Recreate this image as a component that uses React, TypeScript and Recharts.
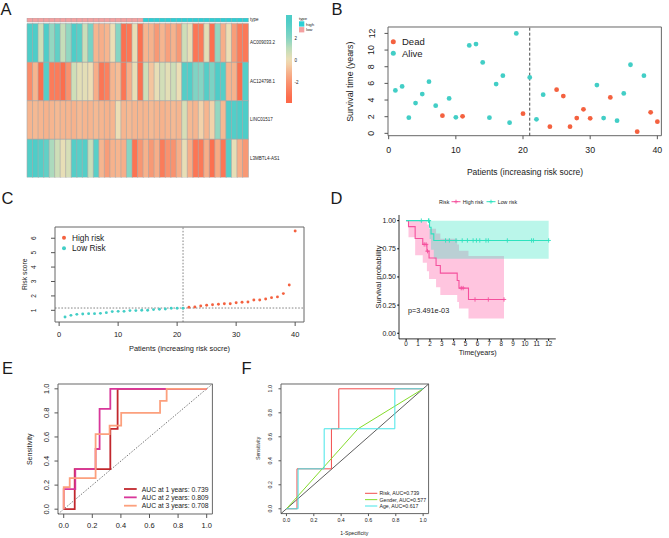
import * as React from 'react';
import {
  BarChart, Bar, Cell, XAxis, YAxis, ScatterChart, Scatter, ComposedChart,
  Line, Area, ReferenceLine, ReferenceArea,
} from 'recharts';

const FONT = '"Liberation Sans", Arial, Helvetica, sans-serif';
const TXT = '#1a1a1a';
const BOX = '#666';
const TICK = '#555';
const RED = '#F4613F';
const TEAL = '#42CEC6';

// ---------- A: heatmap ----------
const geneNames = ['AC009033.2', 'AC124798.1', 'LINC01517', 'L3MBTL4-AS1'];
const sampleType = [
  'low', 'low', 'low', 'low', 'low', 'low', 'low', 'low', 'low', 'low',
  'low', 'low', 'low', 'low', 'low', 'low', 'low', 'low', 'low', 'low', 'low',
  'high', 'high', 'high', 'high', 'high', 'high', 'high', 'high', 'high', 'high',
  'high', 'high', 'high', 'high', 'high', 'high', 'high', 'high', 'high',
];
const exprAC009033 = [3.5, 3.5, 0.8, 3.5, 1.8, 3.0, 1.0, 1.8, 3.5, 3.2, 0.9, 2.4, -1.0, -1.2, -1.0, 0.1, 2.0, -3.2, -3.0, 0.2, -3.2, -1.0, -1.1, -1.8, -1.0, -1.6, -1.1, -1.8, 0.8, 0.2, -3.0, -2.9, 0.3, -3.2, 1.8, -1.2, 0.1, -1.7, -2.8, -2.9];
const exprAC124798 = [-2.2, -1.0, -3.3, 3.3, -2.8, -2.8, -3.3, -2.0, 0.8, 0.3, 0.3, 0.1, -1.2, -3.0, -2.6, -1.0, -0.8, -3.0, -1.2, 0.2, -3.2, 0.8, -0.6, 0.2, 0.7, 0.3, 0.8, 0.1, 3.3, 3.4, 2.2, 2.0, 3.3, 2.3, 3.5, 3.3, -1.0, -1.1, -3.3, 3.3];
const exprLINC01517 = [-1.0, -0.9, -1.0, -1.1, -1.0, -0.9, -1.0, -1.0, -1.1, -0.9, -1.0, -1.0, -0.9, -1.0, -1.1, -1.0, 0.1, -1.0, -0.9, -1.0, -1.0, -1.0, -0.9, -1.0, -1.1, -1.0, -0.9, -1.0, 0.6, -0.9, -1.0, -0.3, -1.0, -0.3, 1.8, -0.9, 3.5, 3.4, 3.5, 3.5];
const exprL3MBTL4 = [3.4, 3.5, 3.3, 3.0, 1.4, 0.8, 0.2, 0.6, 3.3, 3.2, 3.3, 0.9, 3.2, -1.0, -1.7, -1.1, -1.0, -1.2, 2.0, -3.1, -1.9, -1.1, -1.8, -1.2, -2.8, -2.0, -2.0, -1.2, 0.2, -1.2, -3.0, -2.9, -1.2, -3.2, -1.3, -3.0, 3.3, 0.2, -1.2, -1.8];
const colorbarTicks = [2, 0, -2];

// ---------- B: survival status ----------
const survTime = [5.16, 5.64, 1.88, 3.64, 4.72, 6.2, 3.32, 2.12, 4.2, 1.92, 2.04, 10.56, 10.72, 8.52, 1.88, 5.92, 6.92, 1.28, 12, 2.36, 6.72, 1.68, 4.64, 0.8, 5.24, 4.48, 0.8, 1.84, 2.88, 1.8, 5.8, 1.84, 4.32, 1.52, 4.8, 8.24, 0.2, 6.92, 2.52, 1.4];
const survStatus = [0, 0, 0, 0, 0, 0, 0, 1, 0, 0, 1, 0, 0, 0, 0, 0, 0, 0, 0, 1, 0, 0, 0, 1, 1, 1, 1, 1, 1, 1, 0, 0, 1, 0, 0, 0, 1, 0, 1, 1];

// ---------- C: risk score ----------
const riskScore = [0.54, 0.65, 0.72, 0.75, 0.77, 0.77, 0.79, 0.84, 0.91, 0.93, 0.93, 0.98, 0.98, 1.0, 1.0, 1.05, 1.07, 1.09, 1.14, 1.14, 1.14, 1.21, 1.23, 1.3, 1.35, 1.39, 1.42, 1.46, 1.46, 1.53, 1.56, 1.58, 1.72, 1.72, 1.79, 1.88, 1.93, 2.16, 2.76, 6.5];
const cutPatient = 21;
const cutScore = 1.16;

// ---------- D: Kaplan-Meier ----------
const highTime = [0, 0.2, 0.76, 1.4, 1.75, 1.93, 2.52, 2.88, 4.3, 4.45, 5.25, 8.24];
const highSurv = [1, 0.947, 0.842, 0.789, 0.729, 0.668, 0.601, 0.534, 0.468, 0.401, 0.3, 0.3];
const highUpper = [1, 1, 1, 0.995, 0.965, 0.927, 0.886, 0.839, 0.788, 0.733, 0.686, 0.686];
const highLower = [1, 0.852, 0.693, 0.626, 0.551, 0.481, 0.408, 0.34, 0.278, 0.219, 0.131, 0.131];
const lowTime = [0, 1.97, 2.1, 2.33, 12];
const lowSurv = [1, 0.941, 0.882, 0.824, 0.824];
const lowUpper = [1, 1, 1, 1, 1];
const lowLower = [1, 0.836, 0.742, 0.661, 0.661];
const highCensTime = [1.52, 1.68, 1.8, 4.64, 4.8, 5.8, 6.92, 8.24];
const highCensSurv = [0.789, 0.789, 0.729, 0.401, 0.401, 0.3, 0.3, 0.3];
const lowCensTime = [1.28, 1.88, 1.92, 3.32, 3.64, 4.2, 4.72, 5.16, 5.64, 5.92, 6.2, 6.72, 6.92, 8.52, 10.56, 10.72, 12];
const lowCensSurv = [1, 1, 1, 0.824, 0.824, 0.824, 0.824, 0.824, 0.824, 0.824, 0.824, 0.824, 0.824, 0.824, 0.824, 0.824, 0.824];

// ---------- E: time ROC ----------
const roc1Fpr = [0, 0.077, 0.077, 0.326, 0.326, 0.377, 0.377, 1];
const roc1Tpr = [0, 0, 0.333, 0.333, 0.667, 0.667, 1, 1];
const roc2Fpr = [0, 0, 0.081, 0.081, 0.223, 0.223, 0.251, 0.251, 0.326, 0.326, 1];
const roc2Tpr = [0, 0.167, 0.167, 0.333, 0.333, 0.5, 0.5, 0.833, 0.833, 1, 1];
const roc3Fpr = [0, 0, 0.042, 0.042, 0.223, 0.223, 0.321, 0.321, 0.402, 0.402, 0.674, 0.674, 0.72, 0.72, 1];
const roc3Tpr = [0, 0.183, 0.183, 0.258, 0.258, 0.623, 0.623, 0.695, 0.695, 0.8, 0.8, 0.9, 0.9, 1, 1];
const rocLabelsE = ['AUC at 1 years: 0.739', 'AUC at 2 years: 0.809', 'AUC at 3 years: 0.708'];

// ---------- F: clinical ROC ----------
const riskFpr = [0, 0.077, 0.077, 0.329, 0.329, 0.383, 0.383, 1];
const riskTpr = [0, 0, 0.333, 0.333, 0.667, 0.667, 1, 1];
const genderFpr = [0, 0.524, 1];
const genderTpr = [0, 0.667, 1];
const ageFpr = [0, 0.085, 0.085, 0.276, 0.276, 0.793, 0.793, 1];
const ageTpr = [0, 0, 0.333, 0.333, 0.667, 0.667, 1, 1];
const rocLabelsF = ['Risk, AUC=0.739', 'Gender, AUC=0.577', 'Age, AUC=0.617'];

// ---------- helpers ----------
const HEAT_STOPS: [number, number[]][] = [
  [-3.5, [253, 104, 72]], [-2, [249, 146, 111]], [-1, [246, 181, 143]], [0, [240, 222, 181]],
  [1, [197, 222, 185]], [2, [134, 213, 195]], [3.5, [78, 205, 200]],
];
function heatColor(v: number): string {
  const s = HEAT_STOPS;
  const c = (a: number[]) => `rgb(${a.map(Math.round).join(',')})`;
  if (v <= s[0][0]) return c(s[0][1]);
  for (let i = 1; i < s.length; i++) {
    if (v <= s[i][0]) {
      const t = (v - s[i - 1][0]) / (s[i][0] - s[i - 1][0]);
      const a = s[i - 1][1], b = s[i][1];
      return c([0, 1, 2].map(k => a[k] + (b[k] - a[k]) * t));
    }
  }
  return c(s[s.length - 1][1]);
}

const PAD = 12;
function geom(L: number, T: number, R: number, B: number, yw = 30, xh = 20) {
  return {
    style: { position: 'absolute', left: L - yw - PAD, top: T - PAD } as React.CSSProperties,
    width: R - L + yw + 2 * PAD,
    height: B - T + xh + 2 * PAD,
    margin: { top: PAD, right: PAD, bottom: PAD, left: PAD },
    yw, xh,
  };
}

const rotTick = (fs: number, fmt: (v: number) => string) => (p: any) => (
  <text x={p.x} y={p.y} transform={`rotate(-90 ${p.x} ${p.y})`} textAnchor="middle" fontSize={fs} fill={TXT}>
    {fmt(p.payload.value)}
  </text>
);
const dotShape = (r: number) => (p: any) => <circle cx={p.cx} cy={p.cy} r={r} fill={p.fill} />;
const plusShape = (color: string) => (p: any) => (
  <path d={`M${p.cx - 2.2},${p.cy}H${p.cx + 2.2}M${p.cx},${p.cy - 2.2}V${p.cy + 2.2}`} stroke={color} strokeWidth={0.9} fill="none" />
);
const pts = (xs: number[], ys: number[]) => xs.map((x, i) => ({ x, y: ys[i] }));
const band = (xs: number[], lo: number[], hi: number[]) => xs.map((x, i) => ({ x, lo: lo[i], hi: hi[i] }));

const Txt = ({ x, y, fs, anchor = 'start', rot = false, children }: any) => (
  <text x={x} y={y} fontSize={fs} textAnchor={anchor} dominantBaseline="central" fill={TXT}
    transform={rot ? `rotate(-90 ${x} ${y})` : undefined}>{children}</text>
);

// heatmap geometry units (one gene row = 1)
const GAP_H = 1.6 / 38.5;
const ANN_H = 4 / 38.5;
const HEAT_TOP = 4 + GAP_H + ANN_H;
const heatRows = sampleType.map((t, i) => ({ idx: i + 1, r1: 1, r2: 1, r3: 1, r4: 1, gap: GAP_H, ann: ANN_H }));
const GRID = '#A8A8A8';
const TYPE_COL: Record<string, string> = { high: '#2CCFD5', low: '#F4A0A0' };

const PINK = '#F5509D';
const MINT = '#2DE2BE';
const E_COLS = ['#C1272D', '#D8379A', '#FCA07D'];
const F_COLS = ['#F24B4B', '#84DB2A', '#45E5E8'];

export default function App() {
  const gB = geom(388.3, 27.3, 661.7, 136);
  const gC = geom(55, 226.7, 304, 321.7);
  const gD = geom(399.3, 215, 556.1, 338.9);
  const gE = geom(58.3, 384.3, 212.7, 514.3);
  const gF = geom(280.5, 383.5, 428.1, 513.1);

  const bPoints = survTime.map((t, i) => ({ x: i + 1, y: t }));
  const cPoints = riskScore.map((s, i) => ({ x: i + 1, y: s }));

  const cbStops = Array.from({ length: 17 }, (_, k) => ({ off: k / 16, col: heatColor(4.15 - 8 * k / 16) }));

  const basicX = (g: any, dom: number[], ticks: number[], fs: number, ts: number, tm: number, fmt?: (v: number) => string) => (
    <XAxis type="number" dataKey="x" domain={dom} ticks={ticks} allowDataOverflow interval={0} axisLine={false}
      stroke={TICK} tickSize={ts} tickMargin={tm} tick={{ fontSize: fs, fill: TXT }} height={g.xh} tickFormatter={fmt} />
  );
  const basicY = (g: any, dom: number[], ticks: number[], fs: number, ts: number, tm: number, fmt: (v: number) => string) => (
    <YAxis type="number" dataKey="y" domain={dom} ticks={ticks} allowDataOverflow interval={0} axisLine={false}
      stroke={TICK} tickSize={ts} tickMargin={tm} tick={rotTick(fs, fmt)} width={g.yw} />
  );

  return (
    <div style={{ position: 'absolute', left: 0, top: 0, width: 669, height: 538, background: '#fff', fontFamily: FONT, overflow: 'hidden' }}>
      {/* A: heatmap */}
      <div style={{ position: 'absolute', left: 26, top: 16.7 }}>
        <BarChart width={223} height={161.6} data={heatRows} margin={{ top: 1, right: 1, bottom: 1, left: 1 }} barCategoryGap={0} barGap={0}>
          <XAxis dataKey="idx" hide />
          <YAxis type="number" hide domain={[0, HEAT_TOP]} allowDataOverflow />
          <Bar dataKey="r4" stackId="h" isAnimationActive={false}>
            {exprL3MBTL4.map((v, i) => <Cell key={i} fill={heatColor(v)} stroke={GRID} strokeWidth={0.6} />)}
          </Bar>
          <Bar dataKey="r3" stackId="h" isAnimationActive={false}>
            {exprLINC01517.map((v, i) => <Cell key={i} fill={heatColor(v)} stroke={GRID} strokeWidth={0.6} />)}
          </Bar>
          <Bar dataKey="r2" stackId="h" isAnimationActive={false}>
            {exprAC124798.map((v, i) => <Cell key={i} fill={heatColor(v)} stroke={GRID} strokeWidth={0.6} />)}
          </Bar>
          <Bar dataKey="r1" stackId="h" isAnimationActive={false}>
            {exprAC009033.map((v, i) => <Cell key={i} fill={heatColor(v)} stroke={GRID} strokeWidth={0.6} />)}
          </Bar>
          <Bar dataKey="gap" stackId="h" fill="transparent" isAnimationActive={false} />
          <Bar dataKey="ann" stackId="h" isAnimationActive={false}>
            {sampleType.map((t, i) => <Cell key={i} fill={TYPE_COL[t]} stroke={GRID} strokeWidth={0.5} />)}
          </Bar>
        </BarChart>
      </div>

      {/* B: survival status */}
      <div style={gB.style}>
        <ScatterChart width={gB.width} height={gB.height} margin={gB.margin}>
          {basicX(gB, [-0.1, 40.6], [0, 10, 20, 30, 40], 8.8, 3.5, 7.3)}
          {basicY(gB, [-0.28, 12.77], [0, 2, 4, 6, 8, 10, 12], 8.8, 3.5, 10, v => String(v))}
          <ReferenceArea x1={-0.1} x2={40.6} y1={-0.28} y2={12.77} fill="none" stroke={BOX} strokeWidth={1} ifOverflow="visible" />
          <ReferenceLine x={cutPatient} stroke="#333" strokeDasharray="3 2" strokeWidth={0.9} />
          <Scatter data={bPoints} dataKey="y" isAnimationActive={false} shape={dotShape(2.4)}>
            {bPoints.map((d, i) => <Cell key={i} fill={survStatus[i] === 1 ? RED : TEAL} />)}
          </Scatter>
        </ScatterChart>
      </div>

      {/* C: risk score */}
      <div style={gC.style}>
        <ScatterChart width={gC.width} height={gC.height} margin={gC.margin}>
          {basicX(gC, [-0.7, 41.5], [0, 10, 20, 30, 40], 7.5, 4, 5.6)}
          {basicY(gC, [0.19, 6.78], [1, 2, 3, 4, 5, 6], 6.5, 4, 14.5, v => String(v))}
          <ReferenceArea x1={-0.7} x2={41.5} y1={0.19} y2={6.78} fill="none" stroke={BOX} strokeWidth={1} ifOverflow="visible" />
          <ReferenceLine x={cutPatient} stroke="#666" strokeDasharray="1.6 1.6" strokeWidth={0.8} />
          <ReferenceLine y={cutScore} stroke="#666" strokeDasharray="1.6 1.6" strokeWidth={0.8} />
          <Scatter data={cPoints} dataKey="y" isAnimationActive={false} shape={dotShape(1.45)}>
            {cPoints.map((d, i) => <Cell key={i} fill={sampleType[i] === 'high' ? RED : TEAL} />)}
          </Scatter>
        </ScatterChart>
      </div>

      {/* D: Kaplan-Meier */}
      <div style={gD.style}>
        <ComposedChart width={gD.width} height={gD.height} margin={gD.margin}>
          <XAxis type="number" dataKey="x" domain={[-0.6, 12.6]} ticks={[0, 1, 2, 3, 4, 5, 6, 7, 8, 9, 10, 11, 12]} allowDataOverflow interval={0}
            axisLine={{ stroke: '#000', strokeWidth: 0.8 }} tickLine={{ stroke: '#000' }} tickSize={2} tickMargin={1}
            tick={{ fontSize: 6.3, fill: TXT }} height={gD.xh} />
          <YAxis type="number" dataKey="y" domain={[-0.05, 1.05]} ticks={[0, 0.25, 0.5, 0.75, 1]} allowDataOverflow interval={0}
            axisLine={{ stroke: '#000', strokeWidth: 0.8 }} tickLine={{ stroke: '#000' }} tickSize={1.8} tickMargin={1.2}
            tick={{ fontSize: 7, fill: TXT }} tickFormatter={(v: number) => v.toFixed(2)} width={gD.yw} />
          <Area data={band(highTime, highLower, highUpper)} dataKey={(d: any) => [d.lo, d.hi]} type="stepAfter" stroke="none" fill="#FF6EB0" fillOpacity={0.4} isAnimationActive={false} />
          <Area data={band(lowTime, lowLower, lowUpper)} dataKey={(d: any) => [d.lo, d.hi]} type="stepAfter" stroke="none" fill="#2EE5C0" fillOpacity={0.33} isAnimationActive={false} />
          <Line data={pts(highTime, highSurv)} dataKey="y" type="stepAfter" stroke={PINK} strokeWidth={1.1} dot={false} isAnimationActive={false} />
          <Line data={pts(lowTime, lowSurv)} dataKey="y" type="stepAfter" stroke={MINT} strokeWidth={1.1} dot={false} isAnimationActive={false} />
          <Scatter data={pts(highCensTime, highCensSurv)} dataKey="y" shape={plusShape(PINK)} isAnimationActive={false} />
          <Scatter data={pts(lowCensTime, lowCensSurv)} dataKey="y" shape={plusShape(MINT)} isAnimationActive={false} />
        </ComposedChart>
      </div>

      {/* E: time-dependent ROC */}
      <div style={gE.style}>
        <ComposedChart width={gE.width} height={gE.height} margin={gE.margin}>
          {basicX(gE, [-0.04, 1.04], [0, 0.2, 0.4, 0.6, 0.8, 1], 7.5, 4, 5, v => v.toFixed(1))}
          {basicY(gE, [-0.04, 1.04], [0, 0.2, 0.4, 0.6, 0.8, 1], 7.5, 3.5, 5.4, v => v.toFixed(1))}
          <ReferenceArea x1={-0.04} x2={1.04} y1={-0.04} y2={1.04} fill="none" stroke={BOX} strokeWidth={1} ifOverflow="visible" />
          <ReferenceLine segment={[{ x: -0.04, y: -0.04 }, { x: 1.04, y: 1.04 }]} stroke="#555" strokeDasharray="1.5 1.5" strokeWidth={0.8} />
          <Line data={pts(roc1Fpr, roc1Tpr)} dataKey="y" type="linear" stroke={E_COLS[0]} strokeWidth={1.8} dot={false} isAnimationActive={false} />
          <Line data={pts(roc2Fpr, roc2Tpr)} dataKey="y" type="linear" stroke={E_COLS[1]} strokeWidth={1.8} dot={false} isAnimationActive={false} />
          <Line data={pts(roc3Fpr, roc3Tpr)} dataKey="y" type="linear" stroke={E_COLS[2]} strokeWidth={1.8} dot={false} isAnimationActive={false} />
        </ComposedChart>
      </div>

      {/* F: clinical ROC */}
      <div style={gF.style}>
        <ComposedChart width={gF.width} height={gF.height} margin={gF.margin}>
          {basicX(gF, [-0.04, 1.04], [0, 0.2, 0.4, 0.6, 0.8, 1], 5.3, 2.5, 2.5, v => v.toFixed(1))}
          {basicY(gF, [-0.04, 1.04], [0, 0.2, 0.4, 0.6, 0.8, 1], 5.3, 2.5, 6.1, v => v.toFixed(1))}
          <ReferenceArea x1={-0.04} x2={1.04} y1={-0.04} y2={1.04} fill="none" stroke={BOX} strokeWidth={1} ifOverflow="visible" />
          <ReferenceLine segment={[{ x: -0.04, y: -0.04 }, { x: 1.04, y: 1.04 }]} stroke="#333" strokeWidth={0.8} />
          <Line data={pts(riskFpr, riskTpr)} dataKey="y" type="linear" stroke={F_COLS[0]} strokeWidth={1} dot={false} isAnimationActive={false} />
          <Line data={pts(genderFpr, genderTpr)} dataKey="y" type="linear" stroke={F_COLS[1]} strokeWidth={1} dot={false} isAnimationActive={false} />
          <Line data={pts(ageFpr, ageTpr)} dataKey="y" type="linear" stroke={F_COLS[2]} strokeWidth={1} dot={false} isAnimationActive={false} />
        </ComposedChart>
      </div>

      {/* text, legends and panel letters */}
      <svg width={669} height={538} style={{ position: 'absolute', left: 0, top: 0, pointerEvents: 'none', fontFamily: FONT }}>
        <defs>
          <linearGradient id="cb" x1="0" y1="0" x2="0" y2="1">
            {cbStops.map((s, i) => <stop key={i} offset={s.off} stopColor={s.col} />)}
          </linearGradient>
        </defs>

        {/* panel letters */}
        <Txt x={0.5} y={9} fs={16.5}>A</Txt>
        <Txt x={331.5} y={9} fs={16.5}>B</Txt>
        <Txt x={1.5} y={198.3} fs={16.5}>C</Txt>
        <Txt x={330.5} y={198.3} fs={16.5}>D</Txt>
        <Txt x={2} y={368.4} fs={16.5}>E</Txt>
        <Txt x={241.5} y={368.4} fs={16.5}>F</Txt>

        {/* A labels and legends */}
        <Txt x={250} y={19.7} fs={4.5}>type</Txt>
        {geneNames.map((g, i) => <Txt key={g} x={250} y={42.55 + 38.5 * i} fs={4.5}>{g}</Txt>)}
        <rect x={286} y={15} width={6} height={88} fill="url(#cb)" />
        {colorbarTicks.map(v => <Txt key={v} x={294.5} y={60.7 - 11 * v} fs={4.5}>{String(v)}</Txt>)}
        <Txt x={299} y={18.3} fs={4.3}>type</Txt>
        <rect x={299} y={21.3} width={5.3} height={5.3} fill={TYPE_COL.high} />
        <rect x={299} y={27.1} width={5.3} height={5.3} fill={TYPE_COL.low} />
        <Txt x={306} y={24} fs={4.3}>high</Txt>
        <Txt x={306} y={29.8} fs={4.3}>low</Txt>

        {/* B labels */}
        <circle cx={393.3} cy={41.7} r={2.5} fill={RED} />
        <circle cx={393.3} cy={53.3} r={2.5} fill={TEAL} />
        <Txt x={402} y={41.7} fs={9.5}>Dead</Txt>
        <Txt x={402} y={53.3} fs={9.5}>Alive</Txt>
        <Txt x={350.5} y={81.7} fs={8.8} anchor="middle" rot>Survival time (years)</Txt>
        <Txt x={525} y={171.7} fs={8.5} anchor="middle">Patients (increasing risk socre)</Txt>

        {/* C labels */}
        <circle cx={64} cy={237.7} r={2} fill={RED} />
        <circle cx={64} cy={248.3} r={2} fill={TEAL} />
        <Txt x={72} y={237.7} fs={8.3}>High risk</Txt>
        <Txt x={72} y={248.3} fs={8.3}>Low Risk</Txt>
        <Txt x={25} y={274.2} fs={6.8} anchor="middle" rot>Risk score</Txt>
        <Txt x={179.5} y={348.3} fs={7.4} anchor="middle">Patients (increasing risk socre)</Txt>

        {/* D labels */}
        <Txt x={439} y={201.7} fs={5.3}>Risk</Txt>
        <line x1={451.5} x2={460.5} y1={201.7} y2={201.7} stroke={PINK} strokeWidth={1} />
        <path d="M454,201.7H458M456,199.7V203.7" stroke={PINK} strokeWidth={0.9} />
        <Txt x={462.7} y={201.7} fs={5.3}>High risk</Txt>
        <line x1={486.5} x2={495.5} y1={201.7} y2={201.7} stroke={MINT} strokeWidth={1} />
        <path d="M489,201.7H493M491,199.7V203.7" stroke={MINT} strokeWidth={0.9} />
        <Txt x={497.7} y={201.7} fs={5.3}>Low risk</Txt>
        <Txt x={378.3} y={277} fs={7.5} anchor="middle" rot>Survival probability</Txt>
        <Txt x={477.7} y={352} fs={7.2} anchor="middle">Time(years)</Txt>
        <Txt x={408} y={310.7} fs={7.3}>p=3.491e-03</Txt>

        {/* E labels */}
        <Txt x={29.3} y={449.3} fs={7} anchor="middle" rot>Sensitivity</Txt>
        {rocLabelsE.map((s, i) => (
          <g key={s}>
            <line x1={124} x2={136.7} y1={489 + 8.35 * i} y2={489 + 8.35 * i} stroke={E_COLS[i]} strokeWidth={1.8} />
            <Txt x={141.7} y={489 + 8.35 * i} fs={6.8}>{s}</Txt>
          </g>
        ))}

        {/* F labels */}
        <Txt x={258.3} y={448.3} fs={5.2} anchor="middle" rot>Sensitivity</Txt>
        <Txt x={354.3} y={533.3} fs={5.2} anchor="middle">1-Specificity</Txt>
        {rocLabelsF.map((s, i) => (
          <g key={s}>
            <line x1={365} x2={377.3} y1={493.3 + 6.35 * i} y2={493.3 + 6.35 * i} stroke={F_COLS[i]} strokeWidth={1} />
            <Txt x={379.5} y={493.3 + 6.35 * i} fs={5.2}>{s}</Txt>
          </g>
        ))}
      </svg>
    </div>
  );
}
